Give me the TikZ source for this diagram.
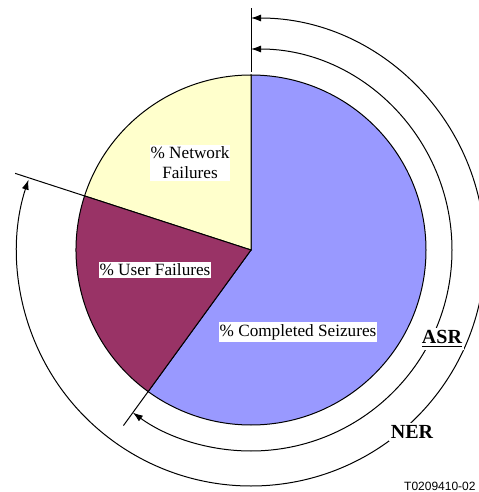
\documentclass[tikz,border=0pt]{standalone}
\usepackage{fontspec}
\setmainfont{Liberation Serif}
\newfontfamily\tagfont{Liberation Sans}
\usetikzlibrary{arrows.meta}
\definecolor{seizblue}{HTML}{9999FF}
\definecolor{netyellow}{HTML}{FFFFCC}
\definecolor{userplum}{HTML}{993366}
\tikzset{
  slice/.style={draw=black, line width=0.5pt},
  lbl/.style={fill=white, inner xsep=0.5pt, inner ysep=1pt, align=center},
  kpilbl/.style={fill=white, inner sep=1pt, font=\bfseries},
  kpiarc/.style={line width=0.5pt, <->}
}
\begin{document}
\begin{tikzpicture}[x=0.5pt, y=0.5pt, >={Latex[length=5pt,width=3.5pt]},
  font=\fontsize{8.6}{10}\selectfont]

\useasboundingbox (-251,-242) rectangle (227,250);

\coordinate (c) at (0,0);

% pie slices
\filldraw[slice, fill=seizblue]
  (c) -- (90:175) arc[start angle=90, end angle=-126, radius=175] -- cycle;
\filldraw[slice, fill=netyellow]
  (c) -- (90:175) arc[start angle=90, end angle=162, radius=175] -- cycle;
\filldraw[slice, fill=userplum]
  (c) -- (162:175) arc[start angle=162, end angle=234, radius=175] -- cycle;

% limit marks
\coordinate (top0) at (0,178);
\coordinate (top1) at (0,242);
\coordinate (nf0) at (162:175);
\coordinate (nf1) at (162:248);
\coordinate (uf0) at (234:175);
\coordinate (uf1) at (234:217);

\draw[slice] (top0) -- (top1);
\draw[slice] (nf0) -- (nf1);
\draw[slice] (uf0) -- (uf1);

% ratio arcs
\coordinate (asr-a) at (90:201);
\draw[kpiarc] (asr-a) arc[start angle=90, end angle=-126, radius=201];

\coordinate (ner-a) at (0,232);
\draw[kpiarc] (ner-a) arc[start angle=90, end angle=-198, radius=234];

% labels
\node[lbl] (net) at (-61,87) {\% Network\\Failures};
\node[lbl] (user) at (-96,-20) {\% User Failures};
\node[lbl] (seiz) at (47,-82) {\% Completed Seizures};

\node[kpilbl] (asr) at (191,-89) {\underline{ASR}};
\node[kpilbl] (ner) at (161,-182) {NER};

\node[anchor=east, inner sep=0pt, font=\tagfont\fontsize{6}{7}\selectfont]
  (tag) at (225,-236) {T0209410-02};

\end{tikzpicture}
\end{document}
